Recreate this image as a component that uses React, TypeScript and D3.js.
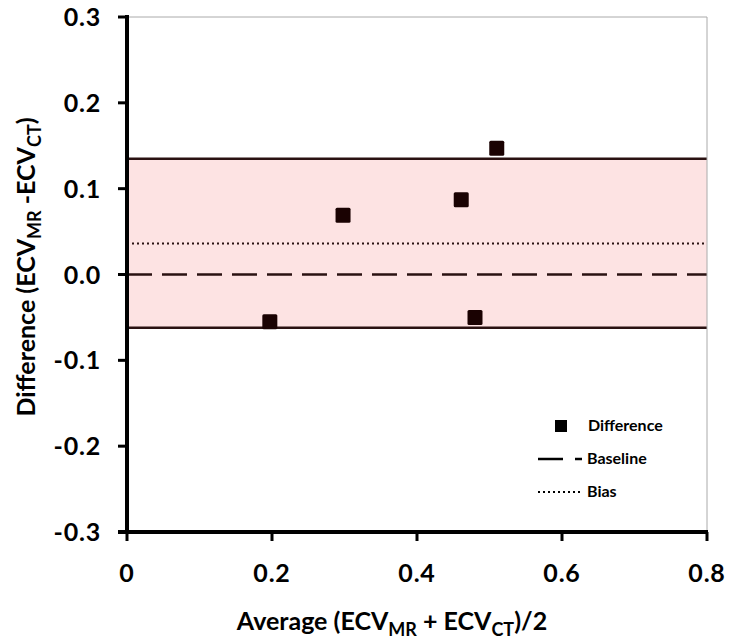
import React from "react";
import * as d3 from "d3";

// Bland–Altman data: average vs. difference of ECV measurements
const averages = [0.197, 0.298, 0.461, 0.48, 0.51];
const differences = [-0.055, 0.069, 0.087, -0.05, 0.147];
const bias = 0.036;
const upperLoA = 0.135;
const lowerLoA = -0.062;
const baseline = 0;
const xTicks = [0, 0.2, 0.4, 0.6, 0.8];
const yTicks = [-0.3, -0.2, -0.1, 0.0, 0.1, 0.2, 0.3];

const W = 729;
const H = 643;
const FONT = "Lato, 'Open Sans', sans-serif";

export default function App() {
  const x = d3.scaleLinear().domain([0, 0.8]).range([127, 707]);
  const y = d3.scaleLinear().domain([-0.3, 0.3]).range([532, 17]);
  const [x0, x1] = x.range();
  const lineColor = "#2a1212";

  return (
    <svg
      width={W}
      height={H}
      style={{ position: "absolute", left: 0, top: 0, background: "#fff" }}
      fontFamily={FONT}
    >
      {/* limits-of-agreement band */}
      <rect
        x={x0}
        y={y(upperLoA)}
        width={x1 - x0}
        height={y(lowerLoA) - y(upperLoA)}
        fill="#fde3e3"
      />
      <line x1={x0} x2={x1} y1={y(upperLoA)} y2={y(upperLoA)} stroke={lineColor} strokeWidth={2.5} />
      <line x1={x0} x2={x1} y1={y(lowerLoA)} y2={y(lowerLoA)} stroke={lineColor} strokeWidth={2.5} />
      {/* baseline and bias */}
      <line
        x1={x0}
        x2={x1}
        y1={y(baseline)}
        y2={y(baseline)}
        stroke={lineColor}
        strokeWidth={2.5}
        strokeDasharray="25 10"
      />
      <line
        x1={x0}
        x2={x1}
        y1={y(bias)}
        y2={y(bias)}
        stroke={lineColor}
        strokeWidth={2}
        strokeDasharray="2 3"
      />

      {/* plot frame (top and right) */}
      <line x1={x0} x2={x1} y1={y(0.3)} y2={y(0.3)} stroke="#aaa" strokeWidth={1} />
      <line x1={x1} x2={x1} y1={y(0.3)} y2={y(-0.3)} stroke="#aaa" strokeWidth={1} />

      {/* points */}
      {averages.map((a, i) => (
        <rect
          key={i}
          x={x(a) - 7.5}
          y={y(differences[i]) - 7.5}
          width={15}
          height={15}
          rx={1.5}
          fill="#1a0202"
        />
      ))}

      {/* y axis */}
      <line x1={x0} x2={x0} y1={y(0.3) - 2} y2={y(-0.3) + 2} stroke="#000" strokeWidth={4} />
      {yTicks.map((t) => (
        <g key={t}>
          <line x1={x0 - 9} x2={x0} y1={y(t)} y2={y(t)} stroke="#000" strokeWidth={3} />
          <text
            x={101}
            y={y(t)}
            dy="0.36em"
            textAnchor="end"
            fontSize={25}
            fontWeight="bold"
            letterSpacing={0.8}
          >
            {t.toFixed(1)}
          </text>
        </g>
      ))}

      {/* x axis */}
      <line x1={x0 - 9} x2={x1 + 1} y1={y(-0.3)} y2={y(-0.3)} stroke="#000" strokeWidth={4} />
      {xTicks.map((t) => (
        <g key={t}>
          <line x1={x(t)} x2={x(t)} y1={y(-0.3)} y2={y(-0.3) + 9} stroke="#000" strokeWidth={3} />
          <text
            x={x(t)}
            y={582}
            textAnchor="middle"
            fontSize={25}
            fontWeight="bold"
            letterSpacing={0.8}
          >
            {t === 0 ? "0" : String(t)}
          </text>
        </g>
      ))}

      {/* axis titles */}
      <text x={392} y={630} textAnchor="middle" fontSize={25} fontWeight="bold">
        Average (ECV
        <tspan fontSize={18} dy={6}>MR</tspan>
        <tspan dy={-6}> + ECV</tspan>
        <tspan fontSize={18} dy={6}>CT</tspan>
        <tspan dy={-6}>)/2</tspan>
      </text>
      <text
        transform="translate(35, 267) rotate(-90)"
        textAnchor="middle"
        fontSize={25}
        fontWeight="bold"
      >
        Difference (ECV
        <tspan fontSize={18} dy={6}>MR</tspan>
        <tspan dy={-6}> -ECV</tspan>
        <tspan fontSize={18} dy={6}>CT</tspan>
        <tspan dy={-6}>)</tspan>
      </text>

      {/* legend */}
      <g fontSize={16} fontWeight="bold">
        <rect x={555} y={420} width={12} height={12} fill="#000" />
        <text x={588} y={431}>Difference</text>
        <line x1={538} x2={563} y1={459} y2={459} stroke="#000" strokeWidth={2.5} />
        <line x1={575} x2={582} y1={459} y2={459} stroke="#000" strokeWidth={2.5} />
        <text x={587} y={464}>Baseline</text>
        <line x1={538} x2={580} y1={492} y2={492} stroke="#000" strokeWidth={2} strokeDasharray="2 3" />
        <text x={587} y={497}>Bias</text>
      </g>
    </svg>
  );
}
